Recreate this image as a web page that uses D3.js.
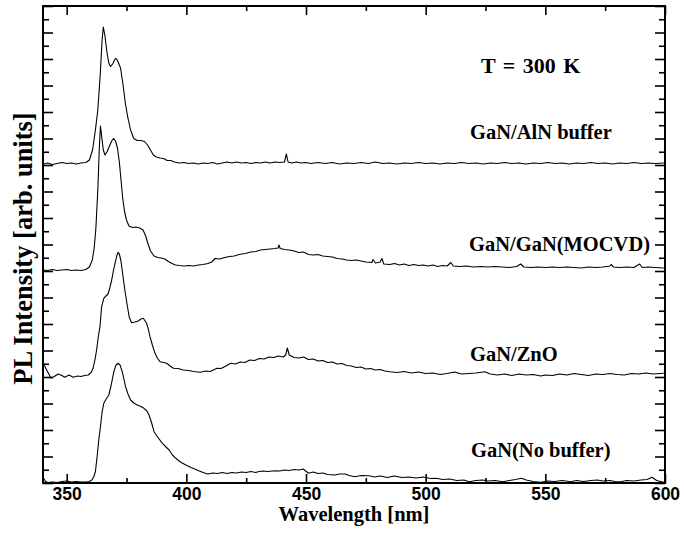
<!DOCTYPE html>
<html><head><meta charset="utf-8">
<script src="https://cdn.jsdelivr.net/npm/d3@7/dist/d3.min.js"></script>
<style>body{margin:0;background:#fff}</style>
</head><body>
<svg id="chart" width="684" height="535"></svg>
<script>
// ---- data (wavelength nm, PL intensity arb. units relative to own baseline) ----
const seriesNames = ["GaN/AlN buffer", "GaN/GaN(MOCVD)", "GaN/ZnO", "GaN(No buffer)"];
const seriesOffsets = [319.5, 216, 109, 1.5];
const tempLabel = "T = 300 K";
const xTickValues = [350, 400, 450, 500, 550, 600];
const xMinorValues = [375, 425, 475, 525, 575];
const xTitle = "Wavelength [nm]";
const yTitle = "PL Intensity [arb. units]";

const specAlN = [[340.5,-0.5],[342,0.5],[344,-1],[346,0],[348,1],[350,0],[352,0.5],[354,-0.5],[356,0.5],[358,1],
[359.5,3.5],[360.8,13.5],[362,33.5],[363,53.5],[364,88.5],[364.8,123.5],[365.3,136.5],[366,127.5],[366.8,111.5],[367.6,100.5],
[368.3,97],[369.2,99.5],[370.2,104.5],[370.7,105],[371.5,101.5],[372.5,95.5],[373.5,79.5],[374.5,60.5],[375.5,46.5],[376.7,33.5],
[378,25],[379.5,23],[381,23],[382.5,22],[383.8,18.5],[385,13.5],[386.2,8.5],[387.5,6.5],[389,5.5],[390.5,5],
[392,3],[393.5,3],[395,1.5],[397,0.5],[399,1],[401,0],[403,0.5],[405,-0.5],[407,0.5],[409,0],
[411,1],[413,-0.5],[415,0.5],[417,1.5],[419,0.5],[421,1.5],[423,0.5],[425,1],[427,0],[429,1],
[431,0.5],[433,1.5],[435,0.5],[437,1.5],[439,1],[441,1.5],[441.8,9.5],[442.5,1.5],[444,0.5],[446,1.5],
[448,0.5],[450,1],[452,0],[455,1],[458,0],[461,1],[464,-0.5],[467,0.5],[470,0],[473,1],
[476,0],[479,1.5],[482,0],[485,0.5],[488,-0.5],[491,0.5],[494,0],[497,1],[500,0],[503,0.5],
[506,-0.5],[509,0.5],[512,0],[515,1],[518,0],[521,0.5],[524,-0.5],[527,0.5],[530,0],[533,1],
[536,0],[539,0.5],[542,-0.5],[545,0.5],[548,0],[551,1],[554,0],[557,0.5],[560,-0.5],[563,0.5],
[566,0],[569,1],[572,0],[575,0.5],[578,-0.5],[581,0.5],[584,0],[587,1],[590,0],[593,0.5],
[596,0],[599.5,0.5]];

const specMOCVD = [[340.5,-3],[342,-3.5],[344,-2.5],[346,-3.5],[348,-3],[350,-2.5],[352,-3.5],[354,-3],[356,-3.5],[358,-2.5],
[359.5,0],[360.7,7],[361.5,19],[362.2,39],[363,77],[363.6,117],[364.1,141],[364.7,129],[365.3,117],[366,112],
[366.8,115],[367.8,120.5],[368.8,126],[369.6,128.5],[370.4,126],[371.2,119],[372,105],[372.7,87],[373.4,69],[374.2,55],
[375,47],[376,41],[377.5,39.5],[379,40],[380.5,39],[381.9,37],[383,31],[384,23],[385,16],[386.5,11],
[388,9.5],[389.5,9],[391,8],[392.5,5.5],[394,3.5],[395.5,2],[397,1.5],[399,1],[401,1.5],[403,1],
[405,2],[407,2.5],[409,3.5],[410.6,5],[412,8.5],[414,8],[416,9.5],[418,10.5],[420,11],[422,12.5],
[424.6,13.5],[427,15],[429,15.5],[431,17],[433,17.5],[435,18],[437,18.5],[438.3,19],[438.7,22],[439.2,18.5],
[441,17.5],[443,17],[445,16],[447,14.5],[449,15],[451,12.5],[453,12],[455,12.5],[457,11],[459,10.5],
[461,10],[463,8.5],[465,8],[467,7],[469,6.5],[471,7],[473,6],[475,5],[477.5,4.5],[478,7.5],
[479,4],[481,5],[481.7,8.5],[482.5,3],[485,2.5],[487,3.5],[489,2],[491,3],[493,1.5],[495,2.5],
[497,1.5],[499,2],[501,1],[503,2],[505,0.5],[507,1.5],[509,1],[510.5,4.5],[511.5,1],[514,0.5],
[517,1],[520,0],[523,0.5],[526,0],[529,0.5],[532,0],[535,-0.5],[538,0.5],[539.7,3],[541,0],
[544,-0.5],[547,0],[550,-0.5],[553,0],[556,-0.5],[559,0],[562,-0.5],[565,-1],[568,0],[571,-0.5],
[574,0],[577,1],[577.5,2.5],[578.5,0],[581,-0.5],[584,0],[587,-0.5],[589.4,3],[590.5,-0.5],[593,0],
[596,-0.5],[599.5,-1]];

const specZnO = [[340.3,10.7],[341.2,6],[342.3,1],[343.4,-4],[344.5,-3],[346.4,0],[348,-1.5],[349.2,-3.3],[351,-1],[352.7,-3.3],
[354.5,-2],[356,-2.5],[357.5,-1.5],[359,-1],[360.2,1.5],[361,5.7],[361.8,14],[362.5,24],[363.2,37],[363.9,47.3],
[364.6,67.3],[365.5,75.7],[366.4,78],[367.3,80],[368,86],[368.8,94],[369.5,103],[370.2,110.7],[370.9,118],[371.5,121.7],
[372,120],[372.6,114],[373.4,100],[374.3,84],[375.2,70],[376.1,57.3],[377.1,51.3],[378.5,52],[379.9,53],[381,55],
[382,55.7],[383.4,50.7],[384.2,44],[384.8,37.3],[385.8,29],[386.9,20.7],[388,15.5],[389,12.3],[390.5,11.5],[391.8,10.7],
[393.2,8],[394.6,5.7],[396.5,5.5],[398.8,4],[401,3.5],[403,2.5],[405.8,1.7],[408,3],[410,2.5],[412.8,5.7],
[414.5,5.5],[416.5,8],[418.6,10.7],[420.5,10],[422.5,12],[424.5,11.5],[426.5,14],[428.5,13.5],[430.5,15.5],[432.5,15],
[434.5,17],[436.5,16.5],[438.5,18],[440.5,17],[441.5,19],[442.2,26],[443,19],[445,16.5],[447,16],[449,17],
[451,14.5],[453,15],[455,13],[457,13.5],[459,11.5],[461,12],[463,10],[465,10.5],[467,8.5],[469,8],
[471,6.5],[473,7],[475,5],[477,5.5],[479,4],[481,4.5],[483,3],[485,2.3],[488,1.5],[491,2.5],
[494,1],[497,2],[500,0.5],[503,1],[506,-0.5],[509,0.5],[512,2],[515,0],[518,0.5],[521,1],
[524.7,2.3],[527,0],[530,-1],[533,0],[536,-1.5],[539,0],[542,-1],[545,-0.5],[548,-2],[550,-1],
[553,-1.5],[556,0],[559,-1],[562,0.5],[565,-0.5],[568,-1.5],[571,0],[574,-0.5],[577,0.5],[580,-0.5],
[583,-1],[586,0.5],[589,0],[592,1],[595,0],[599.5,0.7]];

const specNoBuffer = [[340.3,3.5],[341,0.5],[342,-1],[344,-0.5],[346,-1],[348,0],[350,0.5],[352,-0.5],[354,0],[356,-0.5],
[358,-0.5],[359.5,0],[360.5,1.5],[361.3,4.5],[362,10],[362.7,24.8],[363.4,41.5],[364.1,54.8],[364.8,69.5],[365.5,78.2],
[366.5,82.5],[367.6,86.5],[368.6,96.5],[369.7,109.8],[370.6,116.5],[371.5,118.2],[372.3,116.5],[373.2,109.8],[374,101.5],[374.6,94.8],
[375.6,87.5],[376.7,81.5],[378,78.5],[379.5,76.5],[381,75],[382.3,73.2],[383.5,70.5],[384.4,66.5],[385.5,58.5],[386.5,49.8],
[388,44.5],[390,38.2],[391.5,34.5],[392.8,31.5],[394.2,26.5],[395.6,23.2],[397.5,19.5],[399.8,16.5],[402,14],[404.9,11],
[407,9],[409,7.5],[411,8.5],[413,8],[415,9],[417,8],[419,9],[421,8.5],[423,9.5],[425,9],
[427,10],[429,9],[430,9.8],[432,10.5],[434,10],[437,10.8],[439,10.5],[441,11.5],[443,11],[445,12],
[447,11.5],[448.8,12.5],[451,8.2],[453,9.5],[455,8],[457,8.5],[459,7],[462,6.5],[464,7.5],[466.3,7.5],
[468,6],[470.4,4.8],[473,6],[476.4,5.8],[478.5,4.5],[481,5.5],[484,4],[486.9,5.5],[490,4],[493,4.5],
[496,3.5],[499,4.5],[502,3],[504.3,3.2],[507,2],[510,2.5],[513,1],[516,1.5],[518.2,-0.2],[521,1],
[523.8,1.5],[526,0.5],[529,1],[532.2,-0.2],[535,1],[537.5,2],[540,3.2],[542,1.5],[545,0],[548,-0.8],
[551,0.5],[554,0],[557,1],[560.6,-0.2],[563,1],[566,0],[569,1],[571.7,1.5],[574,0.5],[577,1],
[579,0],[581.4,-0.2],[584,1],[587,0.5],[590,1.5],[592.5,2],[594.6,4.2],[596.5,1],[599.5,-0.8]];

const spectra = [specAlN, specMOCVD, specZnO, specNoBuffer];

// ---- layout ----
const plot = {left: 43, right: 665, top: 6, bottom: 483};
const svg = d3.select("#chart");
const serif = "'Liberation Serif','Times New Roman',serif";
const sans = "'Liberation Sans',Arial,sans-serif";

const x = d3.scaleLinear().domain([340.1, 600]).range([plot.left, plot.right]);
const y = d3.scaleLinear().domain([0, 477]).range([plot.bottom, plot.top]);
const yMajor = d3.range(0, 477.01, 26.5);
const yMinor = d3.range(13.25, 477, 26.5);

function drawAxis(axis, transform, cls) {
  const g = svg.append("g").attr("class", cls).attr("transform", transform).call(axis);
  g.select(".domain").remove();
  g.selectAll(".tick line").attr("stroke", "#000").attr("stroke-width", 1.6);
  return g;
}
// bottom
const gb = drawAxis(d3.axisBottom(x).tickValues(xTickValues).tickSize(-9).tickPadding(5).tickFormat(d3.format("d")),
  `translate(0,${plot.bottom})`, "xb");
gb.selectAll(".tick text").attr("font-family", sans).attr("font-weight", "bold").attr("font-size", 17.5).attr("fill", "#000");
drawAxis(d3.axisBottom(x).tickValues(xMinorValues).tickSize(-5).tickFormat(""), `translate(0,${plot.bottom})`, "xbm");
// top
drawAxis(d3.axisTop(x).tickValues(xTickValues).tickSize(-9).tickFormat(""), `translate(0,${plot.top})`, "xt");
drawAxis(d3.axisTop(x).tickValues(xMinorValues).tickSize(-5).tickFormat(""), `translate(0,${plot.top})`, "xtm");
// left/right
drawAxis(d3.axisLeft(y).tickValues(yMajor).tickSize(-10).tickFormat(""), `translate(${plot.left},0)`, "yl");
drawAxis(d3.axisLeft(y).tickValues(yMinor).tickSize(-6).tickFormat(""), `translate(${plot.left},0)`, "ylm");
drawAxis(d3.axisRight(y).tickValues(yMajor).tickSize(-10).tickFormat(""), `translate(${plot.right},0)`, "yr");
drawAxis(d3.axisRight(y).tickValues(yMinor).tickSize(-6).tickFormat(""), `translate(${plot.right},0)`, "yrm");

// curves
svg.append("clipPath").attr("id", "clip").append("rect")
  .attr("x", plot.left).attr("y", plot.top).attr("width", plot.right - plot.left).attr("height", plot.bottom - plot.top);
spectra.forEach((spec, i) => {
  const line = d3.line().x(d => x(d[0])).y(d => y(d[1] + seriesOffsets[i]));
  svg.append("path").datum(spec).attr("d", line).attr("fill", "none")
    .attr("stroke", "#000").attr("stroke-width", 1.1).attr("stroke-linejoin", "round")
    .attr("clip-path", "url(#clip)");
});

// frame
svg.append("rect").attr("x", plot.left).attr("y", plot.top)
  .attr("width", plot.right - plot.left).attr("height", plot.bottom - plot.top)
  .attr("fill", "none").attr("stroke", "#000").attr("stroke-width", 2);

// labels
const labelPos = [[470, 139], [469, 251], [470, 361], [471, 457]];
seriesNames.forEach((name, i) => {
  svg.append("text").attr("x", labelPos[i][0]).attr("y", labelPos[i][1]).text(name)
    .attr("font-family", serif).attr("font-weight", "bold").attr("font-size", 20.5).attr("fill", "#000");
});
svg.append("text").attr("x", 481).attr("y", 73).text(tempLabel)
  .attr("font-family", serif).attr("font-weight", "bold").attr("font-size", 22)
  .attr("word-spacing", 2).attr("fill", "#000");

svg.append("text").attr("x", (plot.left + plot.right) / 2).attr("y", 521).attr("text-anchor", "middle")
  .text(xTitle).attr("font-family", serif).attr("font-weight", "bold").attr("font-size", 20.5).attr("fill", "#000");
svg.append("text").attr("transform", `translate(32,${(plot.top + plot.bottom) / 2 + 4}) rotate(-90)`)
  .attr("text-anchor", "middle").text(yTitle)
  .attr("font-family", serif).attr("font-weight", "bold").attr("font-size", 26.5).attr("fill", "#000");
</script>
</body></html>
